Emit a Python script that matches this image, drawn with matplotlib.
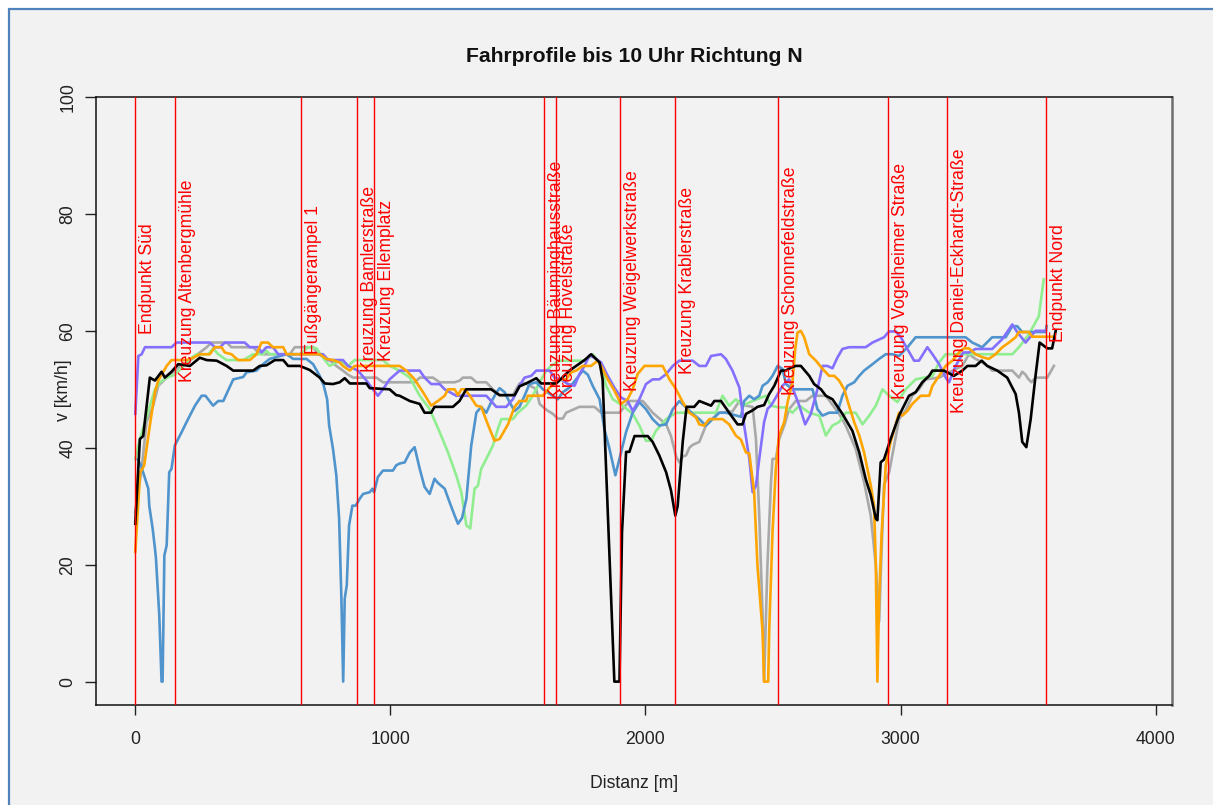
import matplotlib
matplotlib.use("Agg")
import matplotlib.pyplot as plt
from matplotlib.patches import Rectangle
import matplotlib.transforms as mtransforms

plt.rcParams['font.family'] = ['Liberation Sans', 'DejaVu Sans']

W, H = 1213, 805

# ---------------- data ----------------
black_x = [0, 18, 31, 57, 77, 103, 116, 142, 168, 214, 253, 280, 319, 358, 384, 462, 488, 514, 547, 580, 599, 645, 684, 723, 743, 775, 801, 821, 841, 906, 919, 997, 1023, 1036, 1076, 1115, 1134, 1160, 1173, 1245, 1271, 1297, 1395, 1428, 1487, 1506, 1532, 1572, 1591, 1650, 1676, 1702, 1728, 1761, 1787, 1820, 1832, 1878, 1898, 1908, 1924, 1937, 1957, 2009, 2028, 2054, 2081, 2100, 2117, 2126, 2146, 2161, 2191, 2211, 2257, 2270, 2296, 2328, 2361, 2380, 2394, 2420, 2439, 2465, 2485, 2505, 2531, 2550, 2570, 2589, 2609, 2642, 2661, 2688, 2707, 2733, 2772, 2811, 2838, 2863, 2883, 2903, 2909, 2922, 2935, 2961, 2994, 3033, 3059, 3085, 3112, 3125, 3170, 3209, 3242, 3262, 3294, 3318, 3340, 3379, 3418, 3451, 3464, 3477, 3493, 3510, 3529, 3545, 3575, 3594, 3608]
black_y = [27, 41.5, 42, 52, 51.5, 53, 52, 53, 54.3, 54, 55.4, 55, 54.9, 54, 53.2, 53.2, 54, 54.1, 55, 55, 54, 54, 53.3, 52, 51, 50.9, 51.2, 51.9, 51, 51, 50.2, 50, 49, 48.9, 48, 47.5, 46, 46, 47, 47, 48, 50, 50, 49, 49, 50.5, 51, 51.9, 51, 51, 52.1, 53.2, 54, 55, 56, 54.6, 51.7, 0, 0, 25.6, 39.3, 39.3, 42, 42, 41, 38.7, 35.8, 32.7, 28.4, 30, 41, 47, 47, 48, 47.2, 48, 48, 46, 44, 44, 45.8, 46.4, 47, 47.3, 49.2, 50.6, 53.2, 53.2, 53.7, 54, 54, 52.3, 50.9, 50, 48.9, 48.3, 45.8, 42.9, 39.2, 34.7, 31.9, 27.9, 27.6, 37.5, 38, 41.5, 45.5, 48.9, 49.5, 51.2, 52.3, 53.2, 53.2, 52.3, 53.2, 54, 54, 54.9, 54, 53.2, 52, 49.2, 46, 41, 40.1, 44.9, 52.3, 58, 57, 57, 60]

blue_x = [10, 22, 51, 55, 68, 77, 81, 94, 103, 107, 114, 123, 133, 142, 155, 182, 201, 234, 260, 275, 305, 325, 345, 384, 423, 436, 475, 501, 527, 593, 619, 671, 697, 723, 739, 752, 760, 775, 788, 799, 808, 815, 821, 829, 838, 851, 864, 880, 893, 919, 930, 936, 951, 971, 1010, 1023, 1036, 1056, 1076, 1095, 1115, 1134, 1154, 1173, 1186, 1213, 1232, 1252, 1265, 1281, 1298, 1317, 1337, 1356, 1376, 1395, 1415, 1428, 1448, 1467, 1487, 1506, 1526, 1545, 1572, 1598, 1637, 1656, 1676, 1702, 1728, 1754, 1774, 1793, 1820, 1839, 1859, 1882, 1898, 1924, 1950, 1976, 2002, 2028, 2054, 2081, 2107, 2133, 2159, 2185, 2211, 2237, 2263, 2289, 2315, 2348, 2374, 2387, 2407, 2426, 2446, 2459, 2479, 2498, 2518, 2537, 2551, 2576, 2629, 2655, 2674, 2694, 2720, 2752, 2772, 2792, 2818, 2838, 2857, 2890, 2916, 2942, 2968, 2994, 3027, 3059, 3255, 3281, 3320, 3359, 3412, 3438, 3457, 3477, 3569, 3572]
blue_y = [38, 37, 33, 30, 26.2, 22.8, 21.1, 11.4, 0, 0, 21.6, 23.3, 35.8, 36.4, 40.4, 42.7, 44.4, 47.2, 48.9, 48.9, 47.2, 48, 48, 51.7, 52.1, 52.9, 53.2, 54.3, 55.2, 56, 55.2, 55.2, 54.3, 52.3, 50.6, 48.3, 43.8, 39.8, 35.3, 27.9, 14.2, 0, 14.2, 16.5, 26.7, 30.1, 30.1, 31.3, 32.1, 32.4, 33, 32.4, 35, 36.1, 36.1, 37, 37.3, 37.5, 39.2, 40.1, 36.4, 33.3, 32.1, 34.7, 34, 33, 30.7, 28.4, 27, 28, 31.3, 40.4, 46, 47, 46, 47.8, 49.4, 50.2, 49.5, 47.8, 46.3, 47, 48.9, 50.9, 51.2, 50, 48.9, 48.3, 49.5, 50.3, 51.7, 53.2, 52.5, 50.6, 48.3, 43.2, 39.8, 35.3, 38.1, 42.7, 46, 47.8, 46.6, 44.9, 43.8, 44, 46.6, 48, 46.9, 45.8, 44.9, 43.8, 44.9, 46, 46, 45.6, 45.3, 48, 48.9, 48.3, 48.9, 50.6, 51.2, 52.3, 54, 53.5, 50.9, 50, 50, 50, 46.6, 45.5, 46, 46, 48.9, 50.6, 51.2, 52.3, 53.2, 54.3, 55.2, 56, 56, 55.7, 57.2, 58.9, 58.9, 58, 57.2, 58.9, 58.9, 60.8, 60.8, 59.8, 59.8, 60.8]

purple_x = [0, 12, 25, 38, 142, 162, 292, 312, 332, 351, 429, 449, 482, 495, 514, 540, 560, 736, 756, 814, 834, 873, 906, 932, 951, 971, 997, 1036, 1115, 1134, 1160, 1193, 1213, 1258, 1376, 1395, 1415, 1454, 1480, 1506, 1526, 1552, 1572, 1624, 1643, 1669, 1696, 1722, 1741, 1761, 1780, 1800, 1826, 1852, 1878, 1904, 1930, 1950, 1976, 2002, 2028, 2054, 2081, 2107, 2133, 2185, 2211, 2237, 2257, 2296, 2315, 2341, 2368, 2387, 2407, 2420, 2433, 2446, 2465, 2479, 2492, 2511, 2537, 2563, 2583, 2603, 2626, 2648, 2674, 2694, 2713, 2733, 2752, 2772, 2798, 2863, 2890, 2935, 2955, 2981, 3001, 3020, 3053, 3072, 3105, 3125, 3151, 3177, 3190, 3216, 3245, 3268, 3294, 3359, 3399, 3438, 3457, 3490, 3529, 3569]
purple_y = [45.8, 55.7, 56, 57.2, 57.2, 58, 58, 57.2, 57.2, 58, 58, 57.2, 57.2, 56.3, 57.2, 57.2, 56, 56, 55, 55, 54, 53.2, 51.5, 50, 48.9, 50, 51.7, 53.2, 53.2, 52, 50.9, 50.9, 50, 48.9, 48.9, 48, 47, 47, 48.3, 50.6, 52, 52.3, 53.2, 53.2, 52, 51.7, 50.9, 50.6, 52.6, 54, 55.8, 55.4, 54.6, 52.3, 50.3, 48.6, 48, 46.3, 48.3, 50.9, 51.7, 51.7, 52.6, 54, 54.9, 54.9, 54, 54, 55.7, 56, 55.2, 53.2, 50.3, 43.8, 38.1, 32.4, 33.5, 38.1, 44.4, 46.7, 47.2, 48.6, 50.6, 51.7, 49.5, 47.2, 44, 45.8, 50, 54, 54, 53.6, 55.4, 56.9, 57.2, 57.2, 58, 58.9, 59.9, 59.9, 58.9, 57.4, 54.9, 54.9, 57.2, 56, 54.3, 52, 51.2, 54, 56.3, 56.3, 56.9, 56.9, 58.6, 61.1, 59.8, 58, 60, 60]

orange_x = [0, 19, 28, 35, 57, 77, 90, 123, 142, 201, 227, 253, 292, 312, 338, 351, 377, 403, 449, 475, 495, 520, 540, 580, 593, 723, 749, 775, 801, 814, 841, 860, 1036, 1063, 1095, 1128, 1160, 1186, 1213, 1226, 1252, 1265, 1278, 1291, 1310, 1337, 1356, 1382, 1408, 1428, 1461, 1487, 1506, 1532, 1539, 1598, 1624, 1663, 1689, 1709, 1728, 1754, 1787, 1813, 1826, 1852, 1878, 1904, 1930, 1950, 1969, 1996, 2067, 2094, 2120, 2146, 2172, 2198, 2211, 2230, 2250, 2302, 2328, 2354, 2374, 2394, 2407, 2426, 2439, 2459, 2465, 2481, 2485, 2498, 2511, 2524, 2544, 2557, 2576, 2587, 2596, 2609, 2622, 2642, 2668, 2694, 2720, 2740, 2759, 2779, 2798, 2818, 2838, 2857, 2870, 2883, 2896, 2903, 2909, 2916, 2926, 2942, 2961, 2994, 3007, 3027, 3046, 3079, 3112, 3125, 3151, 3177, 3203, 3229, 3248, 3268, 3294, 3320, 3346, 3372, 3399, 3425, 3451, 3464, 3503, 3516, 3594]
orange_y = [22.2, 35.8, 36.4, 37, 43.8, 49.5, 51.5, 54, 55, 55, 55.4, 56, 56, 57.2, 57.2, 56.3, 56, 55, 55, 56, 58, 58, 57.2, 57.2, 56, 56, 55.2, 55, 54.6, 54, 53.2, 54, 54, 53.2, 51.7, 49.5, 47.2, 48, 48.9, 50, 50, 49, 50, 50, 49, 47.2, 47, 44, 41.2, 41.5, 44, 47, 48, 48, 48.9, 48.9, 50.3, 51.7, 51.7, 52.9, 53.2, 54, 54, 54.9, 54, 51.7, 49.8, 47.5, 48.3, 50, 52.6, 54, 54, 51.7, 50, 47.8, 46, 45.2, 44, 43.8, 44.9, 44.9, 44, 42.1, 41.4, 39.2, 39, 32.4, 19.9, 8.6, 0, 0, 8.6, 25.6, 36.4, 42.1, 44.4, 47.8, 51.2, 56.9, 59.7, 60, 58.9, 56, 54.9, 53.5, 52.3, 52.3, 51.5, 50, 47.2, 44.4, 42.1, 39.2, 36.4, 33.6, 30.1, 19.9, 0, 14.2, 25.6, 37, 41, 46, 45.5, 46.3, 47.5, 48.9, 48.9, 50.6, 52.3, 54, 54.9, 56.3, 57, 57, 56, 55.5, 55.2, 56, 57.2, 58, 58.9, 59.8, 59.8, 59, 59]

gray_x = [0, 25, 44, 70, 90, 123, 155, 175, 214, 253, 280, 299, 358, 377, 462, 482, 501, 606, 625, 697, 717, 743, 762, 788, 814, 834, 854, 945, 971, 1036, 1095, 1115, 1167, 1193, 1252, 1272, 1284, 1317, 1337, 1376, 1402, 1428, 1454, 1480, 1506, 1532, 1552, 1572, 1585, 1611, 1637, 1656, 1676, 1689, 1741, 1800, 1826, 1898, 1917, 1937, 1989, 2009, 2028, 2081, 2100, 2120, 2133, 2146, 2159, 2172, 2185, 2211, 2237, 2263, 2289, 2341, 2368, 2394, 2420, 2433, 2446, 2459, 2465, 2478, 2492, 2498, 2511, 2524, 2544, 2563, 2589, 2629, 2655, 2707, 2759, 2785, 2824, 2857, 2883, 2903, 2916, 2922, 2935, 2955, 2975, 2994, 3020, 3046, 3072, 3098, 3151, 3190, 3242, 3268, 3294, 3320, 3346, 3359, 3438, 3464, 3477, 3490, 3500, 3513, 3529, 3575, 3601]
gray_y = [29, 36.4, 44.4, 47.2, 50.6, 52, 53.2, 54, 54.9, 56.3, 57.2, 58, 58, 57.2, 57.2, 56.3, 56, 56, 57.2, 57.2, 56, 55.5, 55, 54, 53.2, 52.5, 52, 52, 51.2, 51.2, 51.2, 52, 52, 51.2, 51.2, 51.5, 52, 52, 51.2, 51.2, 50, 49, 49, 49, 51, 51, 50.5, 50, 47.5, 46.5, 45.8, 45, 45, 46, 47, 47, 46, 46, 47, 48, 48, 47, 46, 44, 42, 38.5, 37.5, 38.5, 38.7, 40, 40.5, 41, 43.8, 45, 46, 46.2, 48, 47.2, 47, 41.5, 28.4, 11.4, 0, 19.9, 34.1, 38.1, 38.1, 41.5, 43.8, 46.6, 48, 48, 48.9, 48.9, 45.8, 43.8, 39.8, 34.1, 28.4, 19.9, 10.3, 18.2, 33.6, 35.8, 40.4, 44.9, 46.4, 48.9, 50, 51.7, 52, 52.9, 54, 56, 55.2, 54.6, 53.8, 53.2, 53.2, 52, 53, 52.5, 51.8, 51.2, 52, 52, 54]

green_x = [0, 18, 38, 57, 77, 97, 123, 155, 182, 208, 240, 286, 305, 325, 358, 423, 462, 501, 514, 527, 645, 677, 710, 743, 762, 801, 834, 860, 971, 997, 1036, 1076, 1115, 1154, 1193, 1226, 1258, 1278, 1298, 1313, 1330, 1343, 1356, 1376, 1402, 1421, 1435, 1480, 1500, 1532, 1558, 1585, 1611, 1630, 1663, 1767, 1793, 1820, 1846, 1872, 1911, 1950, 1976, 2002, 2022, 2041, 2081, 2120, 2211, 2276, 2302, 2328, 2354, 2380, 2420, 2472, 2492, 2524, 2550, 2576, 2603, 2642, 2681, 2707, 2733, 2759, 2785, 2824, 2851, 2877, 2903, 2929, 2955, 2988, 3020, 3059, 3125, 3151, 3177, 3438, 3464, 3503, 3542, 3561]
green_y = [38.1, 41.5, 44.4, 47.2, 50, 51.2, 52, 52.5, 53.7, 54.9, 56, 56, 57, 56, 55, 55, 56, 56, 56.6, 56, 56, 57.2, 57, 55, 54, 54.9, 54, 55, 55, 54, 53.2, 52, 48.9, 46.6, 42.7, 39.2, 35.3, 32.4, 26.7, 26.2, 33, 33.5, 36.4, 38.1, 40.4, 43.2, 44.9, 44.9, 46, 47.2, 48.9, 51.2, 53.2, 54, 54.9, 54.9, 56, 54.5, 50.6, 48.3, 47.2, 45.8, 43.8, 41.2, 41.2, 42.9, 44.9, 46, 46, 46, 48.9, 47.2, 48.3, 47.2, 48, 48.9, 47.2, 46.9, 46.9, 46, 47.2, 46, 45.5, 42.1, 43.8, 44.4, 46, 46, 44, 45.5, 47.2, 50, 48.9, 47.8, 50, 51.7, 52.3, 54.6, 56, 56, 57.2, 59.4, 62.5, 68.8]

landmark_names = ["Endpunkt Süd", "Kreuzung Altenbergmühle", "Fußgängerampel 1",
                  "Kreuzung Bamlerstraße", "Kreuzung Ellemplatz", "Kreuzung Bäuminghausstraße",
                  "Kreuzung Hövelstraße", "Kreuzung Weigelwerkstraße", "Kreuzung Krablerstraße",
                  "Kreuzung Schonnefeldstraße", "Kreuzung Vogelheimer Straße",
                  "Kreuzung Daniel-Eckhardt-Straße", "Endpunkt Nord"]
landmark_x = [0, 157, 649, 871, 935, 1604, 1650, 1899, 2116, 2518, 2951, 3181, 3572]
landmark_label_y = [59.4, 51.3, 56.0, 52.9, 54.8, 48.3, 48.3, 49.7, 52.6, 49.0, 48.3, 46.0, 58.1]

x_ticks = [0, 1000, 2000, 3000, 4000]
y_ticks = [0, 20, 40, 60, 80, 100]

# ---------------- figure ----------------
def fx(px):
    return px / W

def fy(py):
    return 1 - py / H

fig = plt.figure(figsize=(W / 100, H / 100), dpi=100)
fig.patch.set_facecolor('white')
fig.patches.append(Rectangle((fx(8.5), -0.1), 1.2, fy(9.5) + 0.1, transform=fig.transFigure,
                             facecolor='#f2f2f2', edgecolor='#4f81bd', linewidth=1.6, zorder=-10))

ax = fig.add_axes([fx(96), fy(705), fx(1172) - fx(96), fy(97) - fy(705)])
ax.set_zorder(5)
ax.set_facecolor('#f2f2f2')

series = [
    (gray_x, gray_y, '#a9a9a9'),
    (green_x, green_y, '#90ee90'),
    (blue_x, blue_y, '#4f94cd'),
    (purple_x, purple_y, '#8470ff'),
    (orange_x, orange_y, '#ffa500'),
    (black_x, black_y, '#000000'),
]
for xs, ys, c in series:
    ax.plot(xs, ys, color=c, linewidth=1.9, solid_joinstyle='round', zorder=2)

offset = mtransforms.offset_copy(ax.transData, fig=fig, x=9.0, y=0, units='points')
for xv, name, ly in zip(landmark_x, landmark_names, landmark_label_y):
    ax.axvline(xv, color='red', linewidth=1.0, zorder=3)
    ax.text(xv, ly, name, transform=offset, rotation=90, ha='center', va='bottom',
            color='red', fontsize=12.7, zorder=4)

ax.set_xlim(-154, 4064)
ax.set_ylim(-4, 100)
ax.set_xticks(x_ticks)
ax.set_yticks(y_ticks)
ax.tick_params(axis='x', length=7.5, width=1, pad=11.5, labelsize=12.7, colors='#222222')
ax.tick_params(axis='y', length=8, width=1, pad=6, labelsize=12.7, colors='#222222')
for lab in ax.get_yticklabels():
    lab.set_rotation(90)
    lab.set_va('center')
    lab.set_ha('right')

for s in ['left', 'bottom', 'top']:
    ax.spines[s].set_color('#111111')
    ax.spines[s].set_linewidth(1.1)
ax.spines['right'].set_color('#6e6e6e')
ax.spines['right'].set_linewidth(1.8)

fig.text(fx(634), fy(57), "Fahrprofile bis 10 Uhr Richtung N", ha='center', va='center',
         fontsize=15.2, fontweight='bold', color='#111111')
fig.text(fx(634), fy(783), "Distanz [m]", ha='center', va='center', fontsize=12.7, color='#222222')
fig.text(fx(64), fy(390), "v [km/h]", ha='center', va='center', rotation=90, fontsize=12.7,
         color='#222222')

fig.savefig("out.png", dpi=100, facecolor=fig.get_facecolor())
